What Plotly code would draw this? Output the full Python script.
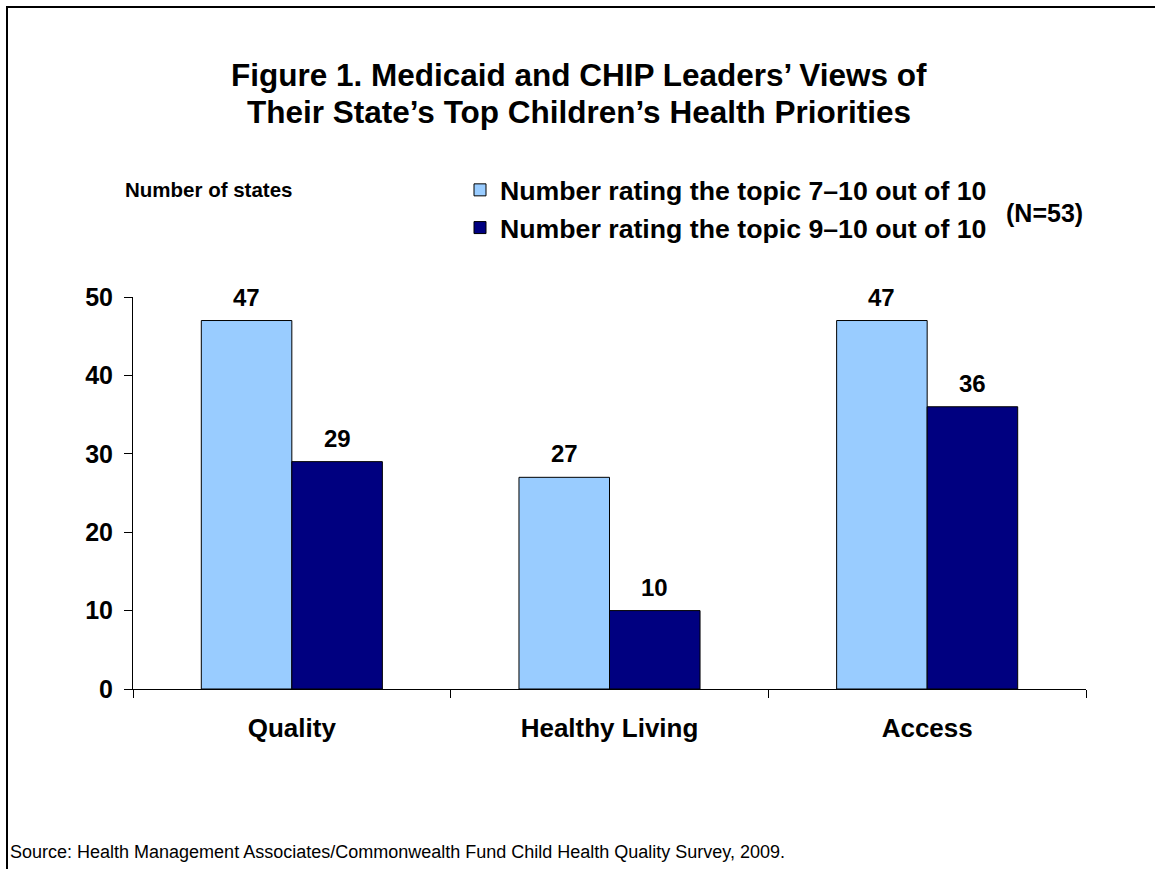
import plotly.graph_objects as go

categories = ["Quality", "Healthy Living", "Access"]
rating_7_10 = [47, 27, 47]
rating_9_10 = [29, 10, 36]
series_names = ["Number rating the topic 7–10 out of 10", "Number rating the topic 9–10 out of 10"]
y_ticks = [0, 10, 20, 30, 40, 50]

FONT = "Liberation Sans, Arial, sans-serif"
L, R, T, B = 133, 69, 297, 180
W, H = 1155, 869
pw, ph = W - L - R, H - T - B

def px(x):
    return (x - L) / pw

def py(y):
    return (H - B - y) / ph

fig = go.Figure()
fig.add_trace(go.Bar(x=categories, y=rating_7_10, name=series_names[0],
                     marker=dict(color="#99CCFF", line=dict(color="black", width=1)),
                     legendgroup="a"))
fig.add_trace(go.Bar(x=categories, y=rating_9_10, name=series_names[1],
                     marker=dict(color="#000080", line=dict(color="black", width=1)),
                     legendgroup="b"))

annotations = []
bar_half = 0.57 * pw / 3 / 4
for vals, shift in [(rating_7_10, -bar_half), (rating_9_10, bar_half)]:
    for c, v in zip(categories, vals):
        annotations.append(dict(x=c, y=v, xref="x", yref="y", text=str(v), showarrow=False,
                                xshift=shift, yshift=8, yanchor="bottom",
                                font=dict(family=FONT, size=24, color="black", weight="bold")))

title_lines = ["Figure 1. Medicaid and CHIP Leaders’ Views of",
               "Their State’s Top Children’s Health Priorities"]
for line, yy in zip(title_lines, [75, 112]):
    annotations.append(dict(x=px(579), y=py(yy), xref="paper", yref="paper", showarrow=False,
                            text=line, xanchor="center", yanchor="middle",
                            font=dict(family=FONT, size=31.5, color="black", weight="bold")))

annotations += [
    dict(x=px(123), y=py(190), xref="paper", yref="paper", showarrow=False, text="Number of states",
         font=dict(family=FONT, size=20.5, color="black", weight="bold"), xanchor="left", yanchor="middle"),
    dict(x=px(1044), y=py(213), xref="paper", yref="paper", showarrow=False, text="(N=53)",
         font=dict(family=FONT, size=25, color="black", weight="bold"), xanchor="center", yanchor="middle"),
    dict(x=px(8), y=py(852), xref="paper", yref="paper", showarrow=False,
         text="Source: Health Management Associates/Commonwealth Fund Child Health Quality Survey, 2009.",
         font=dict(family=FONT, size=18, color="black"), xanchor="left", yanchor="middle"),
]

fig.update_layout(
    width=W, height=H,
    margin=dict(l=L, r=R, t=T, b=B),
    paper_bgcolor="white", plot_bgcolor="white",
    barmode="group", bargap=0.43, bargroupgap=0,
    showlegend=True,
    legend=dict(x=px(460), y=py(166), xanchor="left", yanchor="top",
                font=dict(family=FONT, size=26.7, color="black", weight="bold"),
                tracegroupgap=6, traceorder="normal", bgcolor="rgba(0,0,0,0)"),
    annotations=annotations,
    shapes=[dict(type="rect", xref="paper", yref="paper", x0=px(7), x1=px(1170), y0=py(885), y1=py(7),
                 line=dict(color="black", width=2), fillcolor="rgba(0,0,0,0)")],
    xaxis=dict(showgrid=False, showline=True, linecolor="black", linewidth=1,
               ticks="outside", tickson="boundaries", ticklen=8, tickcolor="black",
               ticklabelstandoff=16,
               tickfont=dict(family=FONT, size=26, color="black", weight="bold")),
    yaxis=dict(range=[0, 50], tickvals=y_ticks, showgrid=False, showline=True, linecolor="black",
               linewidth=1, ticks="outside", ticklen=8, tickcolor="black", zeroline=False,
               ticklabelstandoff=6,
               tickfont=dict(family=FONT, size=25, color="black", weight="bold")),
)

fig.write_html("out.html", config={"displayModeBar": False},
               post_script="document.body.style.margin='0';")
